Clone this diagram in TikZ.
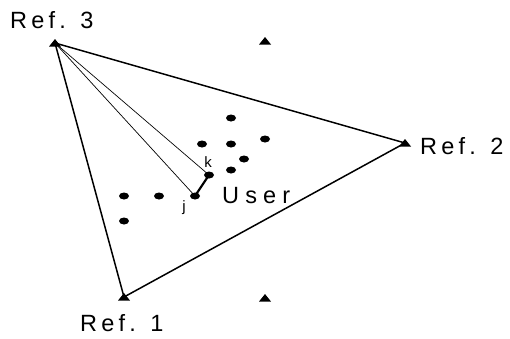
\documentclass[tikz,border=0pt]{standalone}
\usepackage{fontspec}
\usetikzlibrary{calc,shapes.geometric}
\setmainfont{Liberation Sans}
\newfontfamily\spacedfont[LetterSpace=18]{Liberation Sans}
\newfontfamily\widefont[LetterSpace=26]{Liberation Sans}
\begin{document}
\begin{tikzpicture}[x=1pt,y=-1pt,
  edge/.style={line width=1.5pt},
  ray/.style={line width=0.7pt},
  marker/.style={fill=black},
  dotmark/.style={fill=black, ellipse, minimum width=10pt, minimum height=7pt, inner sep=0pt},
  lbl/.style={font=\spacedfont\fontsize{23.5}{24}\selectfont, inner sep=0pt},
  ulbl/.style={font=\widefont\fontsize{23.5}{24}\selectfont, inner sep=0pt},
  small/.style={font=\fontsize{15}{15}\selectfont, inner sep=0pt}]
\useasboundingbox (0,0) rectangle (510,338);
% reference points
\coordinate (r3) at (55,43);
\coordinate (r2) at (405,143);
\coordinate (r1) at (124,297);
\coordinate (e1) at (265,41);
\coordinate (e2) at (265,298);
% triangle
\draw[edge] (r1) -- (r2) -- (r3) -- cycle;
% markers
\foreach \p in {r1,r2,r3,e1,e2}{
  \fill[marker] ($(\p)+(-6,3.5)$) -- ($(\p)+(6,3.5)$) -- ($(\p)+(0,-4)$) -- cycle;
}
% dots
\node[dotmark] (d1) at (231,118) {};
\node[dotmark] (d2) at (202,144) {};
\node[dotmark] (d3) at (231,144) {};
\node[dotmark] (d4) at (265,139) {};
\node[dotmark] (d5) at (244,159) {};
\node[dotmark] (d6) at (231,170) {};
\node[dotmark] (k) at (209,175) {};
\node[dotmark] (j) at (195,196) {};
\node[dotmark] (d7) at (124,196) {};
\node[dotmark] (d8) at (159,196) {};
\node[dotmark] (d9) at (124,221) {};
% rays
\draw[ray] (r3) -- (k.center);
\draw[ray] (r3) -- (j.center);
\draw[line width=2.2pt] (j.center) -- (k.center);
% labels
\node[lbl, anchor=west] (l3) at (10,20) {Ref. 3};
\node[lbl, anchor=west] (l2) at (420,146) {Ref. 2};
\node[lbl, anchor=west] (l1) at (80,323) {Ref. 1};
\node[ulbl, anchor=west] (lu) at (222,196) {User};
\node[small] (lk) at (208,162) {k};
\node[small] (lj) at (184,208) {j};
\end{tikzpicture}
\end{document}
